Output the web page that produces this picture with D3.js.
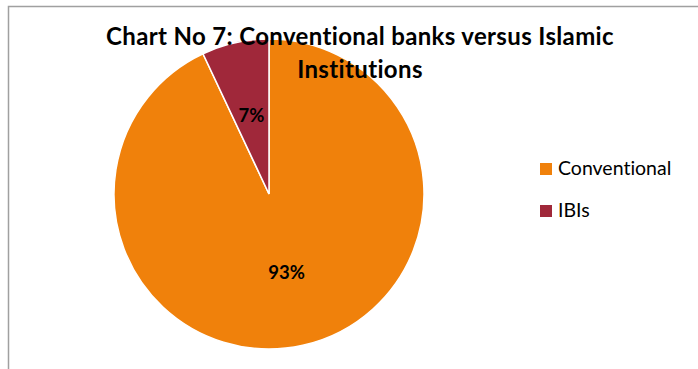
<!DOCTYPE html>
<html>
<head>
<meta charset="utf-8">
<script src="https://cdn.jsdelivr.net/npm/d3@7"></script>
<style>
  body { margin: 0; background: #fff; }
  svg { display: block; font-family: Lato, "Noto Sans", sans-serif; font-variant-ligatures: none; }
</style>
</head>
<body>
<div id="chart"></div>
<script>
// data
const categories = ["Conventional", "IBIs"];
const shares = [93, 7];
const sliceColors = ["#f0810b", "#a0283a"];
const titleLines = ["Chart No 7: Conventional banks versus Islamic", "Institutions"];

const width = 698, height = 369;
const center = { x: 269, y: 194 };
const radius = 155;

const svg = d3.select("#chart").append("svg")
    .attr("width", width)
    .attr("height", height);

// chart area frame (runs off the right and bottom edges)
svg.append("rect")
    .attr("x", 8.5).attr("y", 6.5)
    .attr("width", 720).attr("height", 400)
    .attr("fill", "#fff")
    .attr("stroke", "#a0a0a0")
    .attr("stroke-width", 1.5);

const color = d3.scaleOrdinal().domain(categories).range(sliceColors);

// first slice starts at 12 o'clock and goes clockwise, like Excel
const pie = d3.pie().sort(null).value(d => d.value);
const arcs = pie(categories.map((c, i) => ({ name: c, value: shares[i] })));

const arc = d3.arc().innerRadius(0).outerRadius(radius);
const labelArc = d3.arc().innerRadius(radius * 0.52).outerRadius(radius * 0.52);

const pieGroup = svg.append("g")
    .attr("transform", "translate(" + center.x + "," + center.y + ")");

pieGroup.selectAll("path")
    .data(arcs)
    .join("path")
    .attr("d", arc)
    .attr("fill", d => color(d.data.name))
    .attr("stroke", "#fff")
    .attr("stroke-width", 1.5);

pieGroup.selectAll("text")
    .data(arcs)
    .join("text")
    .attr("transform", d => "translate(" + labelArc.centroid(d) + ")")
    .attr("text-anchor", "middle")
    .attr("dy", "0.35em")
    .attr("font-size", 18.5)
    .attr("font-weight", "bold")
    .attr("fill", "#000")
    .text(d => d.data.value + "%");

// title
svg.append("text")
    .attr("x", 360).attr("y", 45)
    .attr("text-anchor", "middle")
    .attr("font-size", 24)
    .attr("letter-spacing", 0.35)
    .attr("font-weight", "bold")
    .selectAll("tspan")
    .data(titleLines)
    .join("tspan")
    .attr("x", 360)
    .attr("dy", (d, i) => i === 0 ? 0 : 33)
    .text(d => d);

// legend
const legend = svg.append("g")
    .attr("transform", "translate(540,163)");

const legendItem = legend.selectAll("g")
    .data(categories)
    .join("g")
    .attr("transform", (d, i) => "translate(0," + i * 42 + ")");

legendItem.append("rect")
    .attr("width", 12).attr("height", 12)
    .attr("fill", d => color(d));

legendItem.append("text")
    .attr("x", 18).attr("y", 12)
    .attr("font-size", 19.5)
    .text(d => d);
</script>
</body>
</html>
